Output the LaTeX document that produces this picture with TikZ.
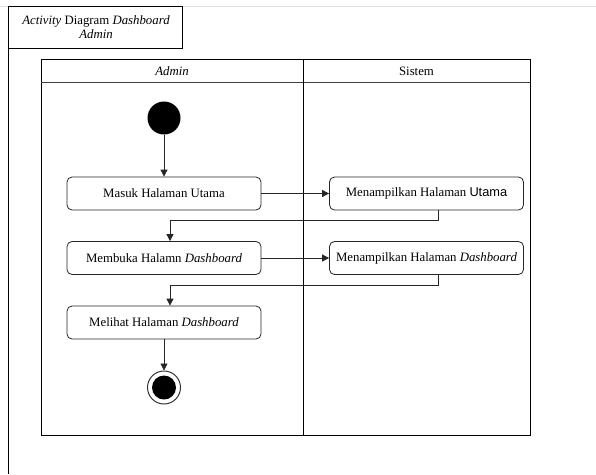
\documentclass[tikz,border=0pt]{standalone}
\usepackage{fontspec}
\setmainfont{Liberation Serif}
\newfontfamily\sansf{Liberation Sans}
\usetikzlibrary{arrows.meta}
\begin{document}
\begin{tikzpicture}[x=1pt,y=-1pt,
  font=\fontsize{12.8}{14.5}\selectfont,
  actbox/.style={draw=black!85,line width=0.8pt,rounded corners=5pt,minimum width=194pt,minimum height=33pt,inner sep=0pt,fill=white},
  lanehead/.style={inner sep=0pt},
  arr/.style={draw=black!85,line width=0.8pt,-{Triangle[length=7pt,width=7pt]}},
  frameline/.style={draw=black,line width=0.9pt}]
\useasboundingbox (0,0) rectangle (596,474);
\fill[white] (0,0) rectangle (596,474);
% page frame
\draw[black!12,line width=0.8pt] (0,6) -- (596,6);
\draw[frameline] (8,6) -- (8,474);
\draw[frameline] (8,6) rectangle (182,48);
\node[align=center,inner sep=0pt] (title) at (96,27) {\textit{Activity} Diagram \textit{Dashboard}\\\textit{Admin}};
% swimlanes
\draw[frameline] (41,59) rectangle (530,435);
\draw[black!75,line width=0.9pt] (41,82) -- (530,82);
\draw[frameline] (303,59) -- (303,435);
\node[lanehead] (hadmin) at (172,71) {\textit{Admin}};
\node[lanehead] (hsys) at (416.5,71) {Sistem};
% nodes
\node[circle,fill=black,minimum size=33pt,inner sep=0pt] (start) at (164,118) {};
\node[actbox] (b1) at (164,193.5) {Masuk Halaman Utama};
\node[actbox] (b2) at (426.5,193.5) {Menampilkan Halaman {\sansf Utama}};
\node[actbox] (b3) at (164,258) {Membuka Halamn \textit{Dashboard}};
\node[actbox] (b4) at (426.5,258) {Menampilkan Halaman \textit{Dashboard}};
\node[actbox] (b5) at (164,322.5) {Melihat Halaman \textit{Dashboard}};
\node[circle,draw=black!80,line width=1pt,fill=white,minimum size=33pt,inner sep=0pt] (end) at (164,387.5) {};
\node[circle,fill=black,minimum size=24pt,inner sep=0pt] (endin) at (164,387.5) {};
% connectors
\draw[arr] (start) -- (b1);
\draw[arr] (b1) -- (b2);
\coordinate (c1) at (438,220);
\coordinate (c2) at (170,220);
\draw[arr] (b2.south -| c1) -- (c1) -- (c2) -- (b3.north -| c2);
\draw[arr] (b3) -- (b4);
\coordinate (c3) at (438,285);
\coordinate (c4) at (170,285);
\draw[arr] (b4.south -| c3) -- (c3) -- (c4) -- (b5.north -| c4);
\draw[arr] (b5) -- (end);
\end{tikzpicture}
\end{document}
